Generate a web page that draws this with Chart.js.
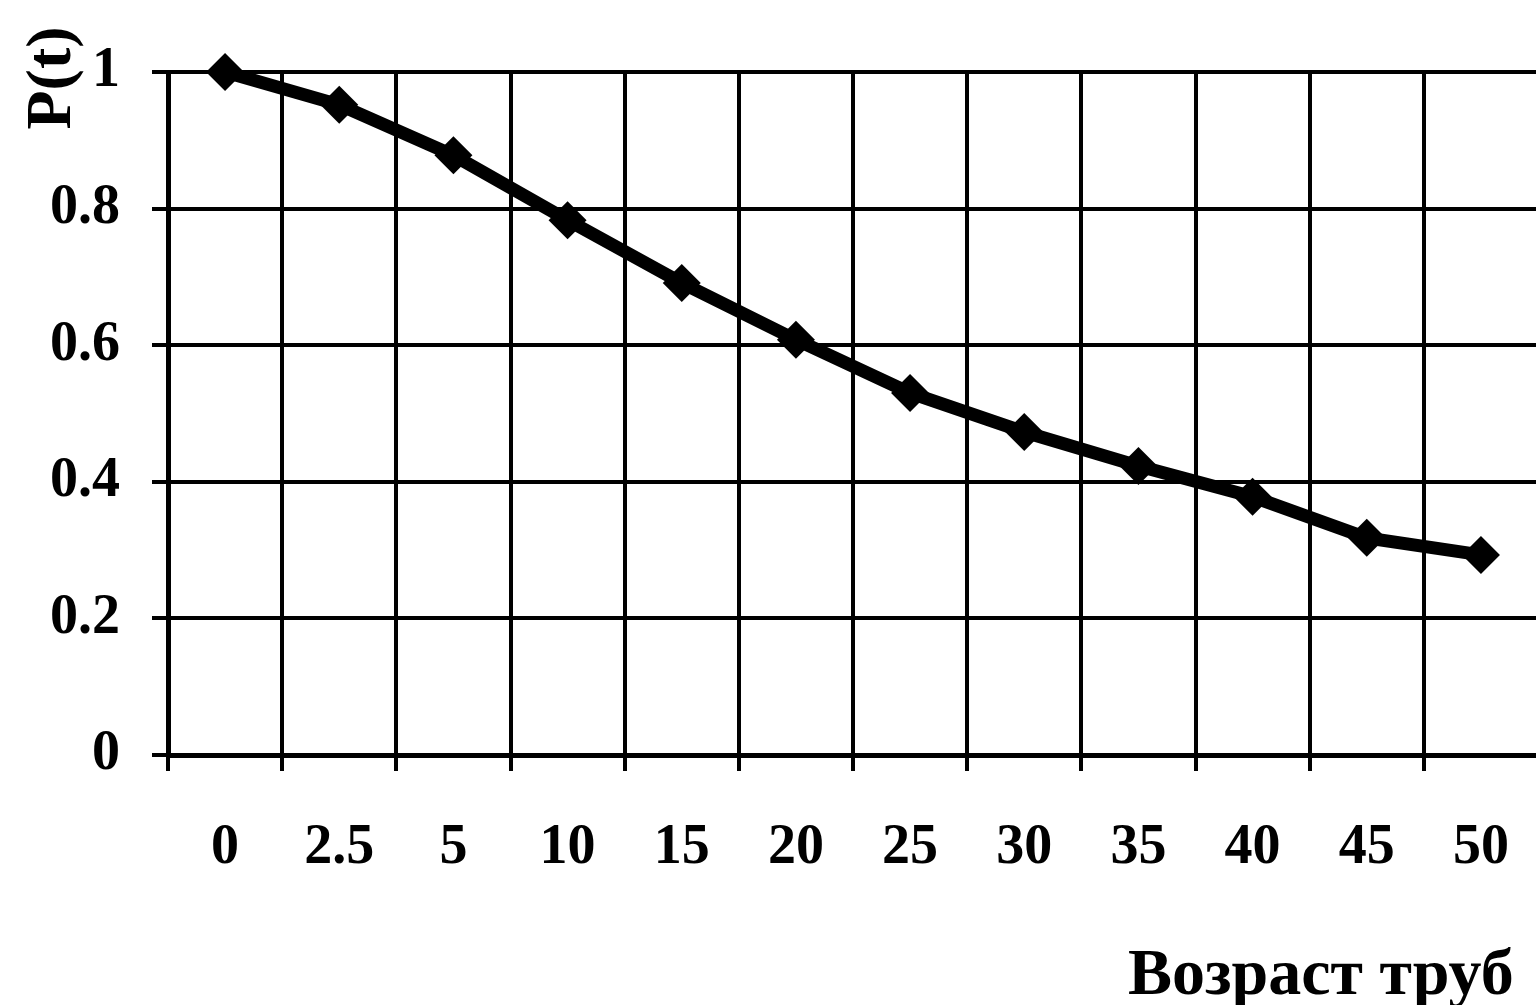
<!DOCTYPE html>
<html>
<head>
<meta charset="utf-8">
<script src="https://cdn.jsdelivr.net/npm/chart.js@4/dist/chart.umd.min.js"></script>
<style>
  html, body { margin: 0; padding: 0; background: #fff; overflow: hidden; }
  #wrap { width: 1560px; height: 1005px; }
</style>
</head>
<body>
<div id="wrap"><canvas id="relChart" width="1560" height="1005"></canvas></div>
<script>
// возраст труб, лет
var ages = ['0', '2.5', '5', '10', '15', '20', '25', '30', '35', '40', '45', '50'];
// вероятность безотказной работы P(t)
var reliability = [1.0, 0.952, 0.878, 0.783, 0.691, 0.608, 0.530, 0.473, 0.423, 0.378, 0.318, 0.293];
var yTicks = [0, 0.2, 0.4, 0.6, 0.8, 1];

var serif = '"Liberation Serif", "Times New Roman", serif';

// подписи осей рисуем сами, чтобы поставить их куда нужно
var axisTitles = {
    id: 'axisTitles',
    afterDraw: function (chart) {
        var ctx = chart.ctx;
        ctx.save();
        ctx.fillStyle = '#000';
        ctx.font = 'bold 64px ' + serif;
        ctx.translate(53, 78);
        ctx.rotate(-Math.PI / 2);
        ctx.textAlign = 'center';
        ctx.textBaseline = 'middle';
        ctx.fillText('P(t)', 0, 0);
        ctx.restore();

        ctx.save();
        ctx.fillStyle = '#000';
        ctx.font = 'bold 66px ' + serif;
        ctx.textAlign = 'left';
        ctx.textBaseline = 'alphabetic';
        ctx.fillText('Возраст труб', 1128, 994);
        ctx.restore();
    }
};

var ctx = document.getElementById('relChart');
new Chart(ctx, {
    type: 'line',
    data: {
        labels: ages,
        datasets: [{
            data: reliability,
            borderColor: '#000',
            backgroundColor: '#000',
            borderWidth: 13,
            pointStyle: 'rectRot',
            pointRadius: 19,
            pointBorderWidth: 0,
            pointBackgroundColor: '#000',
            tension: 0,
            clip: false
        }]
    },
    options: {
        responsive: false,
        animation: false,
        events: [],
        layout: { padding: { top: 72, right: 22, left: 0, bottom: 0 } },
        plugins: {
            legend: { display: false },
            tooltip: { enabled: false }
        },
        scales: {
            x: {
                offset: true,
                grid: {
                    offset: true,
                    color: '#000',
                    lineWidth: 4,
                    tickLength: 16,
                    tickWidth: 4
                },
                border: { color: '#000', width: 5 },
                ticks: {
                    color: '#000',
                    font: { family: serif, size: 56, weight: 'bold' },
                    padding: 44,
                    maxRotation: 0,
                    autoSkip: false
                },
                afterFit: function (scale) { scale.height = 250; }
            },
            y: {
                min: 0,
                max: 1,
                afterBuildTicks: function (scale) {
                    scale.ticks = yTicks.map(function (v) { return { value: v }; });
                },
                grid: {
                    color: '#000',
                    lineWidth: 4,
                    tickLength: 16,
                    tickWidth: 4
                },
                border: { color: '#000', width: 5 },
                ticks: {
                    color: '#000',
                    font: { family: serif, size: 56, weight: 'bold' },
                    padding: 32,
                    callback: function (v) { return String(v); }
                },
                afterFit: function (scale) { scale.width = 168; }
            }
        }
    },
    plugins: [axisTitles]
});
</script>
</body>
</html>
